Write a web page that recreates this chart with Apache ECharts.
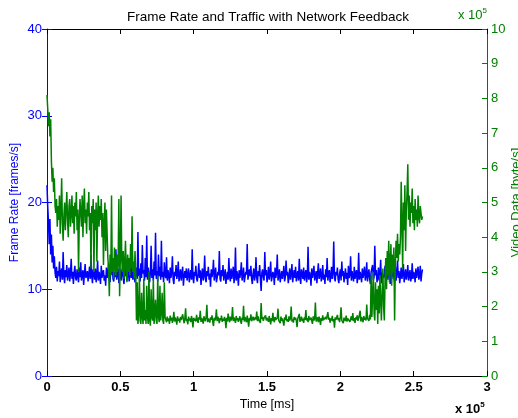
<!DOCTYPE html>
<html>
<head>
<meta charset="utf-8">
<script src="https://cdn.jsdelivr.net/npm/echarts@6/dist/echarts.min.js"></script>
<style>
html,body{margin:0;padding:0;background:#fff;}
#chart{width:518px;height:418px;}
</style>
</head>
<body>
<div id="chart"></div>
<script>
// Sample spacing along the time axis [ms]
const timeStep = 500;

// Frame rate [frames/s]
const frameRate = [
22, 19.5, 17.8, 15.2, 18.1, 14.0, 16.3, 13.1, 15.0, 12.4, 13.8, 11.9,
11.3, 12.6, 10.9, 12.1, 11.5, 13.2, 10.8, 11.9, 12.4, 11.1, 14.3, 11.6, 10.7, 12.2, 11.4, 12.8, 11.0, 11.7, 12.5, 10.9, 11.8, 13.5,
11.2, 12.0, 10.6, 11.9, 12.7, 11.3, 11.0, 12.3, 11.6, 10.8, 12.5, 11.4, 13.1, 11.0, 11.7, 12.2, 10.5, 11.8, 12.9, 11.3, 11.6, 12.1,
10.9, 11.7, 12.6, 11.2, 14.0, 11.5, 10.7, 12.3, 11.8, 11.1, 12.4, 10.8, 11.6, 13.3, 11.0, 12.0, 11.5, 10.6, 12.7, 11.3, 11.9, 12.2,
11.0, 11.6, 10.4, 12.5, 11.3, 11.9, 13.0, 11.1, 10.8, 12.2, 11.7, 12.8, 11.2, 10.9, 12.0, 11.4, 14.6, 11.1, 11.7, 12.4, 10.7, 11.5,
12.3, 11.0, 11.8, 12.6, 11.2, 10.6, 12.1, 11.5, 13.4, 11.0, 11.7, 12.2, 10.9, 11.6, 12.9, 11.3, 15.4, 11.1, 12.0, 11.4, 10.8, 12.5,
12.1, 11.2, 16.6, 11.5, 12.4, 10.9, 13.0, 11.3, 15.1, 11.8, 12.2, 11.0, 13.6, 11.4, 16.2, 11.1, 12.5, 11.7, 10.8, 12.0,
15.0, 11.3, 12.3, 11.0, 13.2, 11.6, 16.5, 11.2, 12.1, 10.9, 14.0, 11.5, 12.6, 11.1, 15.6, 11.4, 12.0, 10.8, 13.1, 11.7,
11.3, 13.7, 11.0, 12.2, 11.6, 10.7, 12.5, 11.3, 11.9, 13.8, 11.1, 10.6, 12.0, 11.5, 12.8, 11.2, 11.7, 13.2, 10.9, 11.6, 12.3, 11.0, 11.8, 12.6, 10.4, 11.5, 12.1,
11.3, 12.4, 11.0, 11.7, 12.4, 10.8, 11.6, 12.2, 11.1, 14.6, 11.4, 10.7, 12.0, 11.5, 12.7, 11.2, 10.9, 11.8, 13.0, 11.3, 12.2, 10.5, 11.7, 12.4, 11.0, 11.6, 13.9,
11.2, 10.8, 12.1, 11.5, 12.6, 11.1, 11.8, 10.3, 12.3, 11.4, 11.9, 13.4, 11.0, 11.7, 12.5, 10.8, 11.3, 12.0, 11.6, 14.4, 11.2, 10.9, 12.2, 11.5, 12.8, 11.0, 11.7,
12.3, 10.6, 11.4, 12.0, 11.1, 13.6, 11.5, 10.9, 12.4, 11.2, 11.8, 12.6, 10.7, 11.5, 14.8, 11.0, 12.1, 11.6, 10.4, 12.2, 11.3, 11.9, 13.1, 11.0, 11.6, 12.5, 10.8,
11.4, 12.0, 11.7, 15.2, 11.1, 10.9, 12.3, 11.5, 12.7, 11.2, 10.6, 11.8, 12.4, 11.0, 11.6, 13.7, 11.3, 10.7, 12.1, 11.5, 12.8, 11.2, 9.8, 11.9, 12.3, 11.4, 11.0,
14.3, 11.6, 12.2, 10.8, 11.5, 12.6, 11.1, 11.8, 13.2, 10.9, 11.4, 12.0, 11.7, 10.5, 12.5, 11.3, 11.9, 14.0, 11.0, 11.6, 12.3, 10.8, 11.5, 12.1, 11.2, 11.8, 12.7,
10.9, 11.4, 13.3, 11.6, 12.0, 10.7, 11.5, 12.4, 11.1, 11.8, 12.9, 10.8, 11.6, 12.2, 11.3, 12.6, 10.9, 11.7, 12.1, 11.0, 13.5, 11.4, 10.6, 12.3, 11.8, 11.2, 12.5,
11.0, 11.7, 12.2, 10.8, 11.5, 14.9, 11.1, 12.0, 11.6, 10.4, 12.4, 11.3, 11.9, 12.7, 11.0, 11.5, 12.1, 10.7, 11.8, 13.0, 11.2, 11.6, 12.4, 10.9, 11.4, 12.8, 11.1,
11.7, 10.6, 12.3, 11.4, 13.6, 11.0, 11.8, 12.2, 10.8, 11.5, 12.6, 11.2, 11.9, 15.5, 11.3, 10.9, 12.0, 11.6, 12.5, 11.1, 10.7, 11.8, 12.3, 11.0, 13.2, 11.5, 12.1,
10.8, 11.6, 12.4, 11.2, 11.9, 10.5, 12.7, 11.3, 11.7, 13.8, 11.0, 12.1, 11.5, 10.9, 12.6, 11.2, 11.8, 12.2, 10.7, 11.4, 14.2, 11.1, 12.0, 11.6, 10.8, 12.4, 11.3,
11.9, 12.6, 11.0, 11.5, 13.1, 10.9, 11.7, 12.3, 11.2, 10.6, 12.0, 11.8, 12.8, 11.1, 11.4, 15.0, 11.6, 12.2, 10.8, 11.3, 12.5, 11.0, 11.7, 13.4, 10.7, 11.9, 12.1,
11.3, 11.6, 12.7, 10.9, 11.5, 12.2, 11.1, 13.9, 11.8, 10.6, 12.4, 11.2, 11.7, 12.0, 11.4, 10.8, 12.6, 11.0, 11.9, 13.3, 11.3, 12.1, 10.7, 11.6, 12.5, 11.2, 11.8,
12.9, 10.8, 11.5, 12.3, 11.1, 11.7, 12.8, 11.0, 11.6, 12.2, 10.9, 11.4, 13.0, 11.2, 12.0, 11.7, 10.8, 12.4, 11.3, 11.9, 12.6, 11.1, 11.5, 12.7, 10.9, 11.8, 12.3
];

// Video data [x 10^5 byte/s]
const videoData = [
8.1, 7.7, 7.2, 7.6, 6.9, 7.4, 6.2, 5.6, 6.0, 5.3, 5.7, 4.9,
4.7, 5.1, 4.3, 4.9, 4.5, 5.2, 4.1, 4.8, 5.7, 4.4, 3.9, 4.6, 5.0, 4.2, 4.8, 5.3, 4.5, 4.0, 4.9, 5.1, 4.3, 4.7, 5.2, 4.4,
4.9, 4.1, 5.0, 4.6, 5.3, 4.2, 4.8, 3.0, 4.5, 5.1, 4.7, 4.3, 5.2, 4.0, 4.9, 5.4, 4.4, 4.8, 4.1, 5.0, 4.6, 5.3, 4.2, 4.7,
3.1, 4.9, 4.4, 5.1, 3.0, 4.8, 4.2, 5.0, 3.3, 4.6, 5.2, 4.3, 4.9, 4.5, 5.1, 4.0, 4.7, 3.2, 4.4, 5.0, 3.6, 4.8, 4.1, 3.4,
3.1, 2.3, 3.5, 2.9, 5.2, 3.0, 3.4, 2.8, 3.7, 3.2, 2.9, 3.5, 3.0, 3.3, 5.1, 2.3, 3.4, 5.2, 3.3, 3.0,
3.6, 2.8, 3.2, 3.9, 3.1, 2.7, 3.5, 3.0, 3.4, 2.9, 3.8, 3.1, 4.6, 3.0, 3.3, 2.8, 3.6, 3.0,
1.6, 2.7, 1.5, 1.8, 2.9, 1.6, 1.5, 2.4, 1.7, 1.5, 2.8, 1.6, 1.9, 1.5, 2.6, 1.7, 1.5, 3.0, 1.6, 1.45,
2.5, 1.7, 1.6, 2.8, 1.5, 1.8, 2.2, 1.6, 1.5, 2.9, 1.7, 1.55, 2.6, 1.6, 1.8, 2.4, 1.6, 1.5, 2.7, 1.7,
1.62, 1.55, 1.71, 1.58, 1.66, 1.50, 1.74, 1.60, 1.68, 1.53, 1.64, 1.85, 1.57, 1.69, 1.61, 1.48, 1.72, 1.59, 1.65, 1.54, 1.70, 1.61, 1.56, 1.78, 1.63, 1.52, 1.67, 1.95,
1.58, 1.64, 1.49, 1.71, 1.60, 1.66, 1.55, 1.73, 1.62, 1.40, 1.68, 1.59, 1.65, 1.57, 1.76, 1.61, 1.53, 1.69, 1.63, 1.88, 1.56, 1.67, 1.60, 1.51, 1.72, 1.64, 1.58, 1.70,
2.05, 1.55, 1.66, 1.61, 1.54, 1.69, 1.62, 1.75, 1.57, 1.44, 1.68, 1.60, 1.66, 1.92, 1.58, 1.71, 1.63, 1.52, 1.67, 1.61, 1.74, 1.56, 1.65, 1.59, 1.70, 1.62, 1.38, 1.68,
1.57, 1.80, 1.64, 1.55, 1.71, 1.60, 1.66, 1.99, 1.58, 1.69, 1.62, 1.53, 1.73, 1.61, 1.67, 1.56, 1.64, 1.72, 1.59, 1.50, 1.68, 1.62, 2.02, 1.57, 1.70, 1.63, 1.55, 1.74,
1.60, 1.42, 1.67, 1.61, 1.78, 1.58, 1.65, 1.71, 1.60, 1.55, 1.69, 1.63, 1.86, 1.58, 1.72, 1.61, 1.66, 1.53, 2.10, 1.64, 1.70, 1.59, 1.67, 1.62, 1.75, 1.60, 1.68, 1.65,
1.56, 1.73, 1.61, 1.49, 1.67, 1.58, 1.82, 1.63, 1.55, 1.70, 1.62, 1.57, 1.68, 1.94, 1.60, 1.65, 1.52, 1.71, 1.59, 1.66, 1.63, 1.45, 1.69, 1.61, 1.77, 1.58, 1.64, 1.56,
1.72, 1.60, 1.67, 2.00, 1.57, 1.63, 1.54, 1.70, 1.62, 1.68, 1.59, 1.41, 1.66, 1.61, 1.79, 1.56, 1.64, 1.71, 1.58, 1.65, 1.53, 1.69, 1.62, 1.90, 1.60, 1.67, 1.55, 1.73,
1.61, 1.58, 1.68, 1.64, 1.50, 1.72, 1.60, 1.66, 2.12, 1.57, 1.63, 1.69, 1.55, 1.71, 1.62, 1.47, 1.67, 1.59, 1.75, 1.61, 1.65, 1.56, 1.70, 1.63, 1.58, 1.84, 1.62, 1.68,
1.54, 1.66, 1.60, 1.73, 1.57, 1.64, 1.39, 1.69, 1.62, 1.58, 1.76, 1.61, 1.67, 1.55, 1.71, 1.98, 1.60, 1.65, 1.52, 1.68, 1.63, 1.59, 1.74, 1.57, 1.66, 1.62, 1.70, 1.56,
1.64, 1.72, 1.60, 1.81, 1.58, 1.67, 1.53, 1.69, 1.63, 1.75, 1.59, 1.66, 1.61, 1.88, 1.57, 1.70, 1.64, 1.55, 1.73, 1.62, 1.68, 1.60, 2.06, 1.66, 1.71, 1.59, 1.76, 1.63,
2.9, 1.7, 2.3, 3.0, 1.8, 1.6, 2.7, 1.9, 2.5,
1.5, 2.6, 1.8, 2.9, 2.2, 1.6, 2.4, 3.1, 2.0, 1.6,
2.8, 3.4, 2.5, 3.6, 2.9, 3.9, 2.7, 3.3, 3.8, 2.6, 3.5, 3.0, 3.7, 1.6,
3.2, 3.9, 3.4, 4.1, 3.3, 3.8, 3.5, 4.0,
5.6, 4.4, 3.1, 5.0, 4.2, 5.5, 3.6, 4.8,
5.3, 6.1, 4.5, 5.2, 4.3, 5.0, 4.7, 5.4, 4.4,
4.9, 4.2, 5.1, 4.5, 4.8, 4.3, 5.2, 4.6, 4.4, 4.9, 4.7, 4.5, 4.6
];

// Tick labels of the time axis (x 10^5 ms)
const timeTicks = ['0', '0.5', '1', '1.5', '2', '2.5', '3'];

const FONT = 'Liberation Sans, Arial, sans-serif';
const BLUE = '#0000ff';
const GREEN = '#008000';

const chart = echarts.init(document.getElementById('chart'), null, {renderer: 'canvas'});

const frameData = frameRate.map((v, i) => [i * timeStep, v]);
const videoSeries = videoData.map((v, i) => [i * timeStep, v]);

const option = {
  backgroundColor: '#ffffff',
  animation: false,
  textStyle: {fontFamily: FONT},
  title: {
    text: 'Frame Rate and Traffic with Network Feedback',
    left: 263, top: 5, textAlign: 'center',
    textStyle: {fontFamily: FONT, fontSize: 13.5, fontWeight: 'normal', color: '#000'}
  },
  grid: {left: 47, right: 31, top: 29, bottom: 42, containLabel: false, outerBoundsMode: 'none'},
  xAxis: [{
    type: 'value', min: 0, max: 300000, interval: 50000, position: 'bottom',
    name: 'Time [ms]', nameLocation: 'middle', nameGap: 22, nameMoveOverlap: false,
    nameTextStyle: {fontFamily: FONT, fontSize: 12.5, color: '#000'},
    axisLine: {show: true, onZero: false, lineStyle: {color: '#000', width: 1}},
    axisTick: {show: true, inside: true, length: 5, lineStyle: {color: '#000'}},
    axisLabel: {
      show: true, margin: 5, color: '#000', fontFamily: FONT, fontSize: 13, fontWeight: 'bold',
      formatter: (v) => timeTicks[Math.round(v / 50000)]
    },
    splitLine: {show: false}
  }, {
    type: 'value', min: 0, max: 300000, interval: 50000, position: 'top',
    axisLine: {show: true, onZero: false, lineStyle: {color: '#000', width: 1}},
    axisTick: {show: true, inside: true, length: 5, lineStyle: {color: '#000'}},
    axisLabel: {show: false},
    splitLine: {show: false}
  }],
  yAxis: [{
    type: 'value', min: 0, max: 40, interval: 10, position: 'left',
    name: 'Frame Rate [frames/s]', nameLocation: 'middle', nameGap: 26, nameRotate: 90, nameMoveOverlap: false,
    nameTextStyle: {fontFamily: FONT, fontSize: 12, color: BLUE},
    axisLine: {show: true, onZero: false, lineStyle: {color: BLUE, width: 1}},
    axisTick: {show: true, inside: true, length: 5, lineStyle: {color: BLUE}},
    axisLabel: {show: true, margin: 5, color: BLUE, fontFamily: FONT, fontSize: 13},
    splitLine: {show: false}
  }, {
    type: 'value', min: 0, max: 10, interval: 1, position: 'right',
    name: 'Video Data [byte/s]', nameLocation: 'middle', nameGap: 23, nameRotate: 90, nameMoveOverlap: false,
    nameTextStyle: {fontFamily: FONT, fontSize: 13, color: GREEN},
    axisLine: {show: true, onZero: false, lineStyle: {color: '#1f5a5a', width: 1}},
    axisTick: {show: true, inside: true, length: 5, lineStyle: {color: GREEN}},
    axisLabel: {show: true, margin: 4, color: GREEN, fontFamily: FONT, fontSize: 13},
    splitLine: {show: false}
  }, {
    type: 'value', min: 0, max: 40, interval: 10, position: 'right', offset: 0,
    axisLine: {show: false},
    axisTick: {show: true, inside: true, length: 5, lineStyle: {color: BLUE}},
    axisLabel: {show: false},
    splitLine: {show: false}
  }],
  graphic: [{
    type: 'text', left: 455, top: 401,
    style: {
      text: '{a|x 10}{b|5}',
      rich: {
        a: {fontFamily: FONT, fontSize: 13, fontWeight: 'bold', fill: '#000'},
        b: {fontFamily: FONT, fontSize: 8, fontWeight: 'bold', fill: '#000', verticalAlign: 'top', padding: [0, 0, 8, 0]}
      }
    }
  }, {
    type: 'text', left: 458, top: 7,
    style: {
      text: '{a|x 10}{b|5}',
      rich: {
        a: {fontFamily: FONT, fontSize: 13, fill: GREEN},
        b: {fontFamily: FONT, fontSize: 8, fill: GREEN, verticalAlign: 'top', padding: [0, 0, 8, 0]}
      }
    }
  }],
  series: [{
    name: 'Frame Rate', type: 'line', xAxisIndex: 0, yAxisIndex: 0,
    data: frameData, showSymbol: false, symbol: 'none',
    lineStyle: {color: BLUE, width: 1.5}, itemStyle: {color: BLUE}, z: 2
  }, {
    name: 'Video Data', type: 'line', xAxisIndex: 0, yAxisIndex: 1,
    data: videoSeries, showSymbol: false, symbol: 'none',
    lineStyle: {color: GREEN, width: 1.5}, itemStyle: {color: GREEN}, z: 3
  }]
};
chart.setOption(option);
</script>
</body>
</html>
